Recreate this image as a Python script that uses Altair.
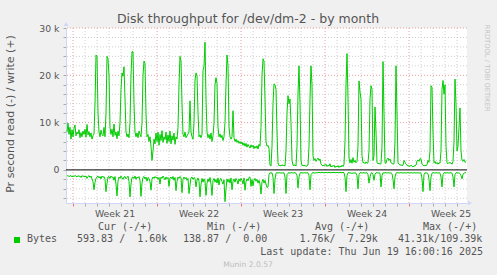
import altair as alt
import pandas as pd

# ---------------- data ----------------
TITLE = "Disk throughput for /dev/dm-2 - by month"
Y_TITLE = "Pr second read (-) / write (+)"
SERIES = "Bytes"
WEEKS = [21, 22, 23, 24, 25]
LEGEND_HEADERS = ["Cur (-/+)", "Min (-/+)", "Avg (-/+)", "Max (-/+)"]
LEGEND_VALUES = ["593.83 /  1.60k", "138.87 /  0.00", "1.76k/  7.29k", "41.31k/109.39k"]
LAST_UPDATE = "Last update: Thu Jun 19 16:00:16 2025"
FOOTER = "Munin 2.0.57"
WATERMARK = "RRDTOOL / TOBI OETIKER"

START_HOUR = -12   # hours relative to Monday (week 21) 00:00
STEP_HOURS = 2

# write (+) bytes/s, thousands
WRITE_K = [
    8.0, 9.9, 7.5, 9.0, 6.5, 8.5,
    7.0, 8.8, 9.5, 7.2, 8.0, 7.6, 8.5, 6.8, 7.9, 7.0, 8.2, 7.5,
    8.6, 6.9, 9.6, 7.4, 8.1, 7.0, 7.8, 6.5, 7.2, 7.6, 14.0, 24.3,
    24.0, 12.0, 8.0, 7.0, 8.4, 7.5, 7.2, 9.0, 7.0, 12.0, 24.0, 23.5,
    20.0, 9.0, 7.5, 8.6, 7.0, 9.7, 7.3, 8.0, 6.6, 8.2, 7.2, 10.0,
    17.0, 20.5, 19.8, 21.8, 15.0, 8.0, 7.0, 7.6, 6.8, 10.0, 20.0, 25.0,
    25.0, 14.0, 8.0, 7.0, 7.8, 6.8, 8.2, 7.5, 7.0, 10.0, 20.0, 23.0,
    22.5, 12.0, 7.0, 7.5, 6.0, 7.0, 5.0, 2.0, 4.0, 6.5, 5.5, 7.8,
    6.0, 8.0, 5.2, 7.5, 6.2, 8.3, 5.8, 7.0, 6.4, 8.0, 5.6, 7.4,
    6.0, 8.2, 5.5, 7.2, 6.3, 7.8, 5.4, 7.0, 6.5, 9.0, 18.0, 24.0,
    23.0, 14.0, 7.5, 7.0, 8.0, 6.8, 7.2, 7.6, 8.0, 14.6, 8.0, 7.0,
    6.5, 10.0, 19.0, 20.5, 20.0, 12.0, 7.0, 7.4, 6.8, 7.5, 21.0, 22.0,
    27.0, 15.0, 8.0, 6.8, 7.5, 6.5, 7.8, 6.0, 7.2, 10.0, 18.0, 19.5,
    18.3, 9.0, 7.0, 7.6, 6.8, 7.3, 6.2, 7.0, 10.0, 18.0, 24.3, 22.0,
    9.0, 7.0, 6.5, 7.0, 12.5, 6.8, 6.0, 6.5, 5.8, 6.2, 5.6, 6.0,
    5.5, 5.9, 5.2, 5.7, 5.0, 5.6, 4.8, 5.4, 5.0, 4.6, 5.3, 4.8,
    5.2, 4.5, 5.0, 4.6, 5.1, 4.4, 5.4, 5.0, 9.0, 20.0, 23.5, 23.0,
    15.0, 6.0, 5.0, 5.2, 4.5, 1.0, 0.8, 5.0, 14.0, 18.2, 18.0, 17.0,
    8.0, 1.5, 0.9, 1.0, 0.8, 1.1, 0.9, 1.0, 0.8, 4.0, 12.0, 15.7,
    14.0, 15.0, 10.0, 2.0, 1.0, 0.9, 1.1, 0.8, 5.0, 16.0, 22.0, 14.0,
    2.0, 0.9, 1.0, 0.8, 1.0, 0.7, 0.9, 1.0, 5.0, 15.0, 22.0, 18.0,
    3.0, 2.0, 2.4, 1.8, 2.2, 2.5, 2.0, 2.3, 1.2, 1.0, 0.8, 1.1,
    0.9, 1.2, 0.7, 1.0, 0.8, 1.3, 0.6, 0.9, 0.7, 1.0, 0.5, 0.8,
    0.6, 0.9, 0.5, 0.8, 0.6, 1.0, 0.7, 1.2, 6.0, 18.0, 24.6, 15.0,
    2.5, 1.5, 2.2, 1.4, 2.6, 1.6, 2.0, 1.5, 1.8, 5.0, 18.8, 16.5,
    15.0, 3.0, 1.5, 1.6, 1.3, 1.7, 1.4, 1.5, 4.0, 15.0, 17.8, 17.0,
    2.0, 3.0, 13.3, 8.0, 1.5, 1.3, 1.4, 1.2, 1.3, 5.0, 22.9, 12.0,
    1.5, 1.4, 2.2, 2.5, 2.0, 2.3, 1.5, 1.4, 1.2, 1.3, 6.0, 22.0,
    12.0, 1.5, 1.2, 1.0, 1.1, 0.9, 1.0, 2.0, 1.6, 1.2, 1.0, 0.8,
    0.9, 0.7, 1.0, 0.8, 0.6, 0.9, 0.8, 1.0, 1.9, 2.1, 1.8, 2.4,
    2.3, 1.2, 1.0, 0.8, 1.0, 0.9, 1.1, 2.0, 1.6, 4.0, 17.8, 17.5,
    8.0, 1.5, 1.8, 1.3, 1.6, 1.2, 1.5, 1.4, 4.0, 17.0, 18.9, 16.0,
    18.0, 5.0, 1.5, 1.3, 1.6, 1.4, 1.5, 1.2, 1.8, 6.0, 19.2, 14.0,
    4.0, 5.0, 9.0, 13.1, 4.0, 2.0, 1.8, 2.2, 1.6, 1.7,
]

# read (-) bytes/s, thousands
READ_K = [
    -1.3, -1.2, -1.4, -1.3, -1.2, -1.5,
    -1.3, -1.4, -1.2, -1.3, -1.5, -1.2, -1.4, -1.3, -1.6, -1.2, -1.4, -1.3,
    -1.5, -1.3, -1.8, -1.4, -1.2, -1.6, -1.3, -1.9, -2.5, -4.2, -2.6, -1.8,
    -1.5, -1.3, -1.7, -1.4, -1.9, -1.3, -1.6, -1.4, -2.0, -4.6, -2.8, -1.5,
    -1.4, -1.8, -1.3, -1.6, -1.5, -2.2, -1.4, -3.0, -5.5, -2.4, -1.5, -1.8,
    -1.3, -1.7, -2.0, -1.5, -1.4, -1.9, -1.6, -1.3, -2.5, -5.7, -3.0, -1.6,
    -1.5, -1.8, -1.3, -2.0, -1.5, -1.7, -1.4, -2.2, -5.6, -2.8, -1.6, -1.4,
    -1.9, -1.5, -2.4, -1.6, -1.8, -2.5, -4.3, -2.0, -1.5, -1.8, -1.4, -1.7,
    -1.5, -2.0, -1.6, -3.0, -1.5, -1.8, -1.3, -1.7, -2.1, -1.5, -1.9, -1.6,
    -3.5, -1.8, -1.5, -1.9, -1.4, -2.2, -1.6, -4.4, -2.4, -1.5, -1.8, -1.4,
    -1.7, -4.8, -2.0, -1.5, -1.9, -1.6, -2.2, -1.8, -5.0, -3.2, -1.7, -1.5,
    -2.0, -1.6, -1.8, -3.6, -2.2, -1.7, -2.4, -5.7, -3.0, -1.8, -2.6, -1.9,
    -2.4, -5.4, -2.8, -1.9, -2.5, -1.6, -3.0, -5.4, -2.2, -1.8, -2.6, -2.0,
    -2.8, -1.7, -3.2, -2.0, -1.8, -2.5, -3.0, -2.1, -6.7, -4.0, -1.9, -2.6,
    -2.0, -2.8, -1.7, -4.2, -2.4, -1.9, -2.6, -1.8, -2.2, -3.0, -1.9, -2.4,
    -1.8, -2.2, -3.0, -1.7, -4.3, -2.5, -1.9, -2.3, -1.6, -1.5, -3.5, -2.0,
    -3.4, -2.2, -1.8, -2.4, -2.0, -2.8, -2.2, -3.0, -5.1, -2.5, -2.0, -2.8,
    -2.2, -3.0, -3.7, -3.6, -1.0, -0.6, -0.7, -0.6, -1.5, -5.0, -2.0, -0.7,
    -0.6, -0.7, -0.6, -0.6, -0.7, -0.6, -0.7, -0.6, -1.5, -5.0, -1.0, -0.7,
    -0.6, -0.7, -0.6, -0.6, -0.7, -0.6, -0.6, -0.7, -1.2, -3.8, -1.5, -0.7,
    -0.6, -0.6, -0.7, -0.6, -0.6, -0.7, -0.6, -0.6, -1.2, -4.2, -1.0, -0.7,
    -0.6, -0.6, -0.7, -0.6, -0.6, -0.6, -0.5, -0.6, -0.6, -0.5, -0.6, -0.6,
    -0.6, -0.5, -0.6, -0.6, -0.5, -0.6, -0.6, -0.5, -0.6, -0.5, -0.6, -0.6,
    -0.5, -0.6, -0.6, -0.5, -0.6, -0.6, -0.5, -0.6, -1.5, -4.6, -1.2, -0.6,
    -0.6, -0.7, -0.6, -0.8, -0.6, -0.7, -0.6, -0.7, -1.2, -4.0, -1.0, -0.6,
    -0.6, -0.7, -0.6, -0.6, -0.7, -0.6, -0.6, -1.0, -2.8, -1.5, -0.7, -0.6,
    -1.0, -2.2, -0.9, -0.6, -0.6, -0.7, -0.6, -0.7, -3.6, -1.2, -0.6, -0.7,
    -0.6, -0.6, -0.7, -0.6, -0.6, -0.7, -0.6, -0.8, -2.0, -4.0, -1.5, -0.7,
    -0.6, -0.6, -0.7, -0.6, -0.6, -0.6, -0.7, -0.6, -0.6, -0.7, -0.6, -0.6,
    -0.6, -0.7, -0.6, -0.6, -0.7, -0.6, -0.6, -0.7, -0.6, -0.6, -0.7, -0.6,
    -0.7, -1.8, -4.6, -1.0, -0.6, -0.7, -0.6, -0.8, -2.0, -4.4, -1.5, -0.7,
    -0.6, -0.6, -0.7, -0.6, -0.6, -0.7, -0.6, -0.7, -1.5, -3.6, -1.0, -0.6,
    -0.6, -0.7, -0.6, -0.6, -0.7, -0.6, -0.6, -0.7, -1.5, -3.6, -1.0, -0.6,
    -0.6, -0.7, -0.6, -0.8, -1.2, -1.9, -0.9, -0.7, -0.6, -0.6,
]

# ---------------- layout / style ----------------
W, H = 401, 175
OX, OY = 66, 28            # page position of plot origin
X_DOMAIN = [-14, 788]
Y_DOMAIN = [-7000, 30000]
GREEN = "#00CC00"
FONT_C = "#555555"
AXIS_C = "#CFD6F8"
MINOR_C = "#cfcfcf"
MAJOR_C = "#e8a0a0"
NB = "\u00a0"

n = len(WRITE_K)
df = pd.DataFrame({
    "hour": [START_HOUR + STEP_HOURS * i for i in range(n)],
    "write": [v * 1000 for v in WRITE_K],
    "read": [v * 1000 for v in READ_K],
})

xs = alt.Scale(domain=X_DOMAIN, nice=False, zero=False)
ys = alt.Scale(domain=Y_DOMAIN, nice=False, zero=False)

day_hours = list(range(0, X_DOMAIN[1] + 1, 24))
week_hours = [h for h in day_hours if h % 168 == 0]
minor_days = [h for h in day_hours if h % 168 != 0]
y_steps = list(range(-6000, Y_DOMAIN[1] + 1, 2000))
minor_y = [v for v in y_steps if v % 10000 != 0]
major_y = [v for v in y_steps if v % 10000 == 0 and v != 0]

x_axis = alt.Axis(
    values=day_hours, labels=False, title=None, grid=False,
    tickSize=3, tickColor={"condition": {"test": "datum.value % 168 === 0", "value": "#e07070"}, "value": "#aaaaaa"},
    domainColor=AXIS_C, domainWidth=1,
)
y_axis = alt.Axis(
    values=y_steps, title=None, grid=False, tickSize=3, tickColor="#aaaaaa",
    domainColor=AXIS_C, labelFont="DejaVu Sans", labelFontSize=9.3, labelColor=FONT_C,
    labelPadding=4, labelBaseline="middle",
    labelExpr=f"datum.value % 10000 === 0 ? (datum.value === 0 ? '0{NB}{NB}' : (datum.value/1000) + ' k') : ''",
)

vminor = alt.Chart(pd.DataFrame({"h": minor_days})).mark_rule(
    color=MINOR_C, strokeDash=[1, 2], strokeWidth=1
).encode(x=alt.X("h:Q", scale=xs, axis=x_axis))
hminor = alt.Chart(pd.DataFrame({"v": minor_y})).mark_rule(
    color=MINOR_C, strokeDash=[1, 2], strokeWidth=1
).encode(y=alt.Y("v:Q", scale=ys, axis=y_axis))
vmajor = alt.Chart(pd.DataFrame({"h": week_hours})).mark_rule(
    color=MAJOR_C, strokeDash=[1, 2], strokeWidth=1
).encode(x=alt.X("h:Q", scale=xs, axis=None))
hmajor = alt.Chart(pd.DataFrame({"v": major_y})).mark_rule(
    color=MAJOR_C, strokeDash=[1, 2], strokeWidth=1
).encode(y=alt.Y("v:Q", scale=ys, axis=None))

wline = alt.Chart(df).mark_line(color=GREEN, strokeWidth=1).encode(
    x=alt.X("hour:Q", scale=xs, axis=None), y=alt.Y("write:Q", scale=ys, axis=None))
rline = alt.Chart(df).mark_line(color=GREEN, strokeWidth=1).encode(
    x=alt.X("hour:Q", scale=xs, axis=None), y=alt.Y("read:Q", scale=ys, axis=None))
zero = alt.Chart(pd.DataFrame({"v": [0]})).mark_rule(color="#000000", strokeWidth=1).encode(
    y=alt.Y("v:Q", scale=ys, axis=None))

weeks_df = pd.DataFrame({"mid": [84 + 168 * i for i in range(len(WEEKS))],
                         "label": [f"Week {w}" for w in WEEKS]})
week_labels = alt.Chart(weeks_df).mark_text(
    font="DejaVu Sans", fontSize=9.3, color=FONT_C, align="center", baseline="alphabetic"
).encode(x=alt.X("mid:Q", scale=xs, axis=None), y=alt.value(216.5 - OY), text="label:N")


def txt(s, x, y, size, color=FONT_C, font="DejaVu Sans", align="left", angle=0):
    s = s.replace(" ", NB)
    return alt.Chart(pd.DataFrame({"t": [s]})).mark_text(
        font=font, fontSize=size, color=color, align=align, baseline="alphabetic", angle=angle
    ).encode(text="t:N", x=alt.value(x - OX), y=alt.value(y - OY))


def arrow(shape, x, y):
    return alt.Chart(pd.DataFrame({"a": [shape]})).mark_point(
        shape=shape, filled=True, color=AXIS_C, size=22, opacity=1
    ).encode(x=alt.value(x - OX), y=alt.value(y - OY))


MONO = "DejaVu Sans Mono"
texts = [
    txt(TITLE, 248, 22.5, 12.5, align="center"),
    txt(Y_TITLE, 13.5, 114, 11, align="center", angle=270),
    txt(WATERMARK, 485, 68, 6.75, color="#c4c4c4", align="center", angle=90),
    txt(SERIES, 27, 242.3, 10, font=MONO),
    txt(LAST_UPDATE, 483, 254.5, 10, font=MONO, align="right"),
    txt(FOOTER, 248, 266.5, 7.6, color="#bdbdbd", align="center"),
]
for s, x in zip(LEGEND_HEADERS, [98, 207, 315, 423]):
    texts.append(txt(s, x, 230, 10, font=MONO))
for s, x in zip(LEGEND_VALUES, [77, 183, 299.5, 398]):
    texts.append(txt(s, x, 242.3, 10, font=MONO))

swatch = alt.Chart(pd.DataFrame({"s": [SERIES]})).mark_rect(color=GREEN).encode(
    x=alt.value(14 - OX), x2=alt.value(20 - OX), y=alt.value(237 - OY), y2=alt.value(243 - OY))

arrows = [arrow("triangle-up", 66, 24), arrow("triangle-right", 470, 203)]

chart = alt.layer(
    vminor, hminor, vmajor, hmajor, wline, rline, zero, week_labels, swatch, *arrows, *texts
).resolve_scale(x="independent", y="independent").properties(
    width=W, height=H,
    autosize=alt.AutoSizeParams(type="none"),
    padding={"left": OX, "top": OY, "right": 497 - OX - W, "bottom": 275 - OY - H},
    background="#F0F0F0",
).configure_view(stroke=None, fill="white")

chart.save("out.html", embed_options={"renderer": "svg", "actions": False})
